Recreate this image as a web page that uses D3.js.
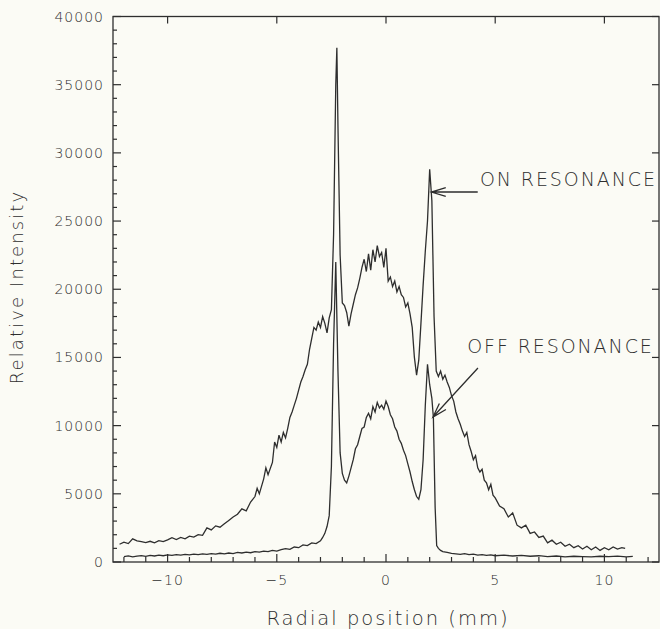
<!DOCTYPE html>
<html>
<head>
<meta charset="UTF-8">
<title>radial profile</title>
<script src="https://cdn.jsdelivr.net/npm/d3@7.8.5/dist/d3.min.js"></script>
<style>
  body { margin: 0; background: #fbfbf5; }
  text { font-family: "DejaVu Sans", sans-serif; font-weight: 300; fill: #2e2e2e; }
</style>
</head>
<body>
<div id="chart"></div>
<script>
// on resonance trace (mm, counts)
const onPos = [-12.2,-12.0,-11.8,-11.6,-11.4,-11.2,-11.0,-10.8,-10.6,-10.4,-10.2,-10.0,-9.8,-9.6,-9.4,-9.2,-9.0,-8.8,-8.6,-8.4,-8.2,-8.0,-7.8,-7.6,-7.4,-7.2,-7.0,-6.8,-6.6,-6.4,-6.2,-6.0,-5.9,-5.8,-5.6,-5.5,-5.4,-5.2,-5.1,-5.0,-4.9,-4.8,-4.7,-4.6,-4.5,-4.4,-4.3,-4.2,-4.1,-4.0,-3.9,-3.8,-3.7,-3.6,-3.5,-3.4,-3.3,-3.2,-3.1,-3.0,-2.9,-2.8,-2.7,-2.6,-2.5,-2.4,-2.3,-2.25,-2.2,-2.1,-2.0,-1.9,-1.8,-1.7,-1.6,-1.5,-1.4,-1.3,-1.2,-1.1,-1.0,-0.9,-0.8,-0.7,-0.6,-0.5,-0.4,-0.3,-0.2,-0.1,0.0,0.1,0.2,0.3,0.4,0.5,0.6,0.7,0.8,0.9,1.0,1.1,1.2,1.3,1.4,1.5,1.6,1.7,1.8,1.9,2.0,2.1,2.2,2.3,2.4,2.5,2.6,2.7,2.8,2.9,3.0,3.1,3.2,3.3,3.4,3.5,3.6,3.7,3.8,3.9,4.0,4.1,4.2,4.3,4.4,4.5,4.6,4.7,4.8,4.9,5.0,5.2,5.4,5.6,5.8,6.0,6.2,6.4,6.6,6.8,7.0,7.2,7.4,7.6,7.8,8.0,8.2,8.4,8.6,8.8,9.0,9.2,9.4,9.6,9.8,10.0,10.2,10.4,10.6,10.8,10.95];
const onVal = [1300,1450,1350,1700,1550,1500,1420,1520,1400,1560,1500,1620,1780,1650,1800,1700,1900,1820,2000,1950,2500,2350,2650,2550,2800,3050,3300,3500,3900,3750,4400,4800,5400,5000,6100,6900,6400,7300,8800,8400,9300,8800,9500,9100,9800,10600,11000,11500,12000,12600,13200,13600,14100,14500,15600,16400,17200,17000,17600,17200,18000,17500,16800,17900,18500,24000,35000,37700,32000,22500,19000,18800,18300,17300,18200,18900,19600,20100,20800,21600,22200,21300,22600,21400,22900,22000,23200,22400,22700,21600,23000,20600,20900,20200,20600,19800,20200,19600,19400,18700,19000,18200,17200,15000,13700,14800,17500,20300,22800,25000,28800,26500,18000,14000,13600,14000,13400,13700,13200,12800,12200,11800,11000,10500,10100,9600,9200,9500,8600,8100,7500,7800,6900,6600,6800,6000,5800,5300,5700,4900,4700,4100,3900,3300,3600,2700,2500,2700,2100,2200,1800,1900,1400,1600,1300,1450,1150,1300,1050,1200,950,1150,900,1100,850,1050,900,1100,950,1050,1000];

// off resonance trace
const offPos = [-12.0,-11.8,-11.6,-11.4,-11.2,-11.0,-10.8,-10.6,-10.4,-10.2,-10.0,-9.8,-9.6,-9.4,-9.2,-9.0,-8.8,-8.6,-8.4,-8.2,-8.0,-7.8,-7.6,-7.4,-7.2,-7.0,-6.8,-6.6,-6.4,-6.2,-6.0,-5.8,-5.6,-5.4,-5.2,-5.0,-4.8,-4.6,-4.4,-4.2,-4.0,-3.8,-3.6,-3.4,-3.2,-3.0,-2.9,-2.8,-2.7,-2.6,-2.5,-2.4,-2.3,-2.2,-2.1,-2.0,-1.9,-1.8,-1.7,-1.6,-1.5,-1.4,-1.3,-1.2,-1.1,-1.0,-0.9,-0.8,-0.7,-0.6,-0.5,-0.4,-0.3,-0.2,-0.1,0.0,0.1,0.2,0.3,0.4,0.5,0.6,0.7,0.8,0.9,1.0,1.1,1.2,1.3,1.4,1.5,1.6,1.7,1.8,1.9,2.0,2.1,2.17,2.25,2.32,2.4,2.5,2.6,2.8,3.0,3.2,3.4,3.6,3.8,4.0,4.2,4.4,4.6,4.8,5.0,5.4,5.8,6.2,6.6,7.0,7.4,7.8,8.2,8.6,9.0,9.4,9.8,10.2,10.6,11.0,11.3];
const offVal = [400,450,380,430,470,420,480,440,500,460,520,480,540,500,560,520,580,540,600,560,620,580,640,600,660,620,700,660,720,680,760,720,800,760,850,800,900,980,930,1100,1050,1250,1200,1400,1350,1550,1800,2100,2600,3400,7000,16000,22000,14000,8000,6500,6000,5800,6300,6900,7500,8300,8600,9200,9800,9900,10600,10900,10500,11400,11000,11700,11300,11500,11200,11800,11400,10800,10500,9900,9600,9000,8700,8200,7800,7200,6600,5900,5300,4800,4600,5300,7500,11500,14500,13000,12000,10600,4000,1200,1000,850,760,700,640,600,560,620,540,580,500,540,480,520,460,500,440,480,420,460,400,440,380,420,400,380,420,390,430,380,410];

const xTicks = [-10, -5, 0, 5, 10];
const yTicks = [0, 5000, 10000, 15000, 20000, 25000, 30000, 35000, 40000];
const notes = [
  {text: "ON RESONANCE", x: 4.3, y: 27570, tail: [4.2, 27130], tip: [2.08, 27130]},
  {text: "OFF RESONANCE", x: 3.72, y: 15350, tail: [4.21, 14230], tip: [2.15, 10630]}
];

const width = 660, height = 629;
const ink = "#2e2e2e";

const svg = d3.select("#chart").append("svg")
  .attr("width", width).attr("height", height);

const x = d3.scaleLinear().domain([-12.5, 12.5]).range([113, 659]);
const y = d3.scaleLinear().domain([0, 40000]).range([562, 16.5]);

// frame
svg.append("rect")
  .attr("x", x(-12.5)).attr("y", y(40000))
  .attr("width", x(12.5) - x(-12.5)).attr("height", y(0) - y(40000))
  .attr("fill", "none").attr("stroke", ink).attr("stroke-width", 1.3);

// ticks, all pointing inward
const tk = svg.append("g").attr("stroke", ink).attr("stroke-width", 1.2);
d3.range(-12, 13).forEach(v => {
  const major = v % 5 === 0;
  tk.append("line").attr("x1", x(v)).attr("x2", x(v))
    .attr("y1", y(0)).attr("y2", y(0) - (major ? 8 : 5));
  if (major) tk.append("line").attr("x1", x(v)).attr("x2", x(v))
    .attr("y1", y(40000)).attr("y2", y(40000) + 7);
});
d3.range(0, 40001, 1000).forEach(v => {
  const major = v % 5000 === 0;
  tk.append("line").attr("x1", x(-12.5)).attr("x2", x(-12.5) + (major ? 8 : 4))
    .attr("y1", y(v)).attr("y2", y(v));
  if (major) tk.append("line").attr("x1", x(12.5)).attr("x2", x(12.5) - 7)
    .attr("y1", y(v)).attr("y2", y(v));
});

// tick labels
svg.append("g").selectAll("text").data(xTicks).join("text")
  .attr("x", d => x(d)).attr("y", 585)
  .attr("text-anchor", "middle").attr("font-size", 14).attr("letter-spacing", 1)
  .text(d => d < 0 ? "\u2212" + Math.abs(d) : d);
svg.append("g").selectAll("text").data(yTicks).join("text")
  .attr("x", 104).attr("y", d => y(d) + 5)
  .attr("text-anchor", "end").attr("font-size", 14).attr("letter-spacing", 1)
  .text(d => d);

// axis titles
svg.append("text").attr("x", 388).attr("y", 625)
  .attr("text-anchor", "middle").attr("font-size", 19.5).attr("letter-spacing", 2)
  .text("Radial position (mm)");
svg.append("text").attr("transform", "translate(23,287) rotate(-90)")
  .attr("text-anchor", "middle").attr("font-size", 18).attr("letter-spacing", 2.1)
  .text("Relative Intensity");

// traces
const line = d3.line().x(d => x(d[0])).y(d => y(d[1]));
svg.append("path").attr("d", line(d3.zip(offPos, offVal)))
  .attr("fill", "none").attr("stroke", ink).attr("stroke-width", 1.3);
svg.append("path").attr("d", line(d3.zip(onPos, onVal)))
  .attr("fill", "none").attr("stroke", ink).attr("stroke-width", 1.3);

// annotations with arrows
notes.forEach(n => {
  svg.append("text").attr("x", x(n.x)).attr("y", y(n.y))
    .attr("font-size", 19).attr("letter-spacing", 1.9).text(n.text);
  const x0 = x(n.tail[0]), y0 = y(n.tail[1]), x1 = x(n.tip[0]), y1 = y(n.tip[1]);
  const a = Math.atan2(y0 - y1, x0 - x1), len = 15, spread = 0.3;
  svg.append("path")
    .attr("d", `M${x0},${y0}L${x1},${y1}` +
      `M${x1 + len * Math.cos(a + spread)},${y1 + len * Math.sin(a + spread)}L${x1},${y1}` +
      `L${x1 + len * Math.cos(a - spread)},${y1 + len * Math.sin(a - spread)}`)
    .attr("fill", "none").attr("stroke", ink).attr("stroke-width", 1.3);
});
</script>
</body>
</html>
